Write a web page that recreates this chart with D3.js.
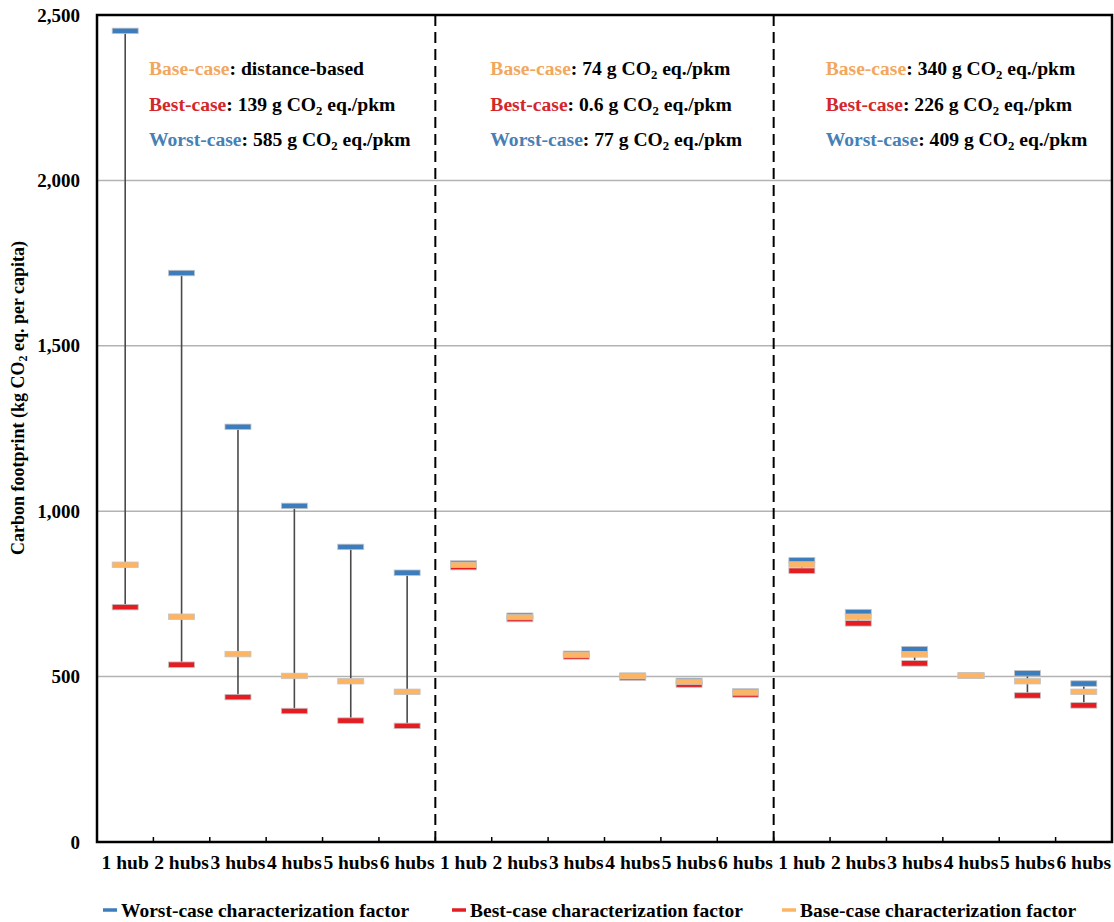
<!DOCTYPE html>
<html>
<head>
<meta charset="utf-8">
<script src="https://cdn.jsdelivr.net/npm/d3@7"></script>
<style>
  body { margin: 0; background: #fff; }
  text { font-family: "Liberation Serif", "Times New Roman", serif; font-weight: bold; }
</style>
</head>
<body>
<div id="chart"></div>
<script>
// categories and the three scenarios (one panel each)
const hubs = ['1 hub', '2 hubs', '3 hubs', '4 hubs', '5 hubs', '6 hubs']

// carbon footprint, kg CO2 eq. per capita
const worst1 = [2452, 1720, 1255, 1016, 892, 814]
const best1 = [710, 536, 438, 396, 367, 351]
const base1 = [838, 681, 568, 502, 486, 454]

const worst2 = [842, 684, 569, 503, 487, 455]
const best2 = [831, 674, 561, 497, 476, 446]
const base2 = [838, 680, 566, 501, 484, 452]

const worst3 = [852, 695, 583, 503, 510, 479]
const best3 = [820, 661, 540, 503, 443, 413]
const base3 = [839, 681, 567, 503, 486, 454]

const yTicks = [0, 500, 1000, 1500, 2000, 2500]

// annotation text per panel: [base, best, worst]
const notes = [
    ['distance-based', '139 g CO|2| eq./pkm', '585 g CO|2| eq./pkm'],
    ['74 g CO|2| eq./pkm', '0.6 g CO|2| eq./pkm', '77 g CO|2| eq./pkm'],
    ['340 g CO|2| eq./pkm', '226 g CO|2| eq./pkm', '409 g CO|2| eq./pkm']
]
const noteLabels = ['Base-case', 'Best-case', 'Worst-case']

const seriesNames = ['Worst-case characterization factor', 'Best-case characterization factor', 'Base-case characterization factor']

const col = {worst: '#3b7dbd', best: '#e31d22', base: '#fdb463'}
const textCol = {'Base-case': '#f2a75e', 'Best-case': '#d4262b', 'Worst-case': '#4680b5'}

const W = 1114, H = 922
const pl = 97, pr = 1112, pt = 15, pb = 842

const rows = []
const series = [[worst1, best1, base1], [worst2, best2, base2], [worst3, best3, base3]]
series.forEach((s, g) => {
    hubs.forEach((h, i) => {
        rows.push({key: g + '-' + i, hub: h, g: g, worst: s[0][i], best: s[1][i], base: s[2][i]})
    })
})

const svg = d3.select('#chart').append('svg').attr('width', W).attr('height', H)

const x = d3.scaleBand().domain(rows.map(d => d.key)).range([pl, pr])
const y = d3.scaleLinear().domain([0, 2500]).range([pb, pt])

// gridlines
svg.append('g').selectAll('line')
    .data(yTicks.filter(d => d > 0 && d < 2500))
    .enter().append('line')
    .attr('x1', pl).attr('x2', pr)
    .attr('y1', d => y(d)).attr('y2', d => y(d))
    .attr('stroke', '#b3b3b3').attr('stroke-width', 1.5)

// y tick labels
const yAxis = svg.append('g').attr('transform', 'translate(' + pl + ',0)')
    .call(d3.axisLeft(y).tickValues(yTicks).tickFormat(d3.format(',')).tickSize(0).tickPadding(17))
yAxis.select('.domain').remove()
yAxis.selectAll('text').attr('font-size', 19).attr('fill', '#000')
    .style('font-family', '"Liberation Serif", serif').style('font-weight', 'bold')

// group separators
svg.append('g').selectAll('line')
    .data([1, 2])
    .enter().append('line')
    .attr('x1', g => x(g + '-0')).attr('x2', g => x(g + '-0'))
    .attr('y1', pt).attr('y2', pb)
    .attr('stroke', '#000').attr('stroke-width', 2).attr('stroke-dasharray', '11,6')

// x ticks (inward) at band edges
svg.append('g').selectAll('line')
    .data(rows.slice(1))
    .enter().append('line')
    .attr('x1', d => x(d.key)).attr('x2', d => x(d.key))
    .attr('y1', pb).attr('y2', pb - 5)
    .attr('stroke', '#000').attr('stroke-width', 1.5)

// x labels
svg.append('g').selectAll('text')
    .data(rows)
    .enter().append('text')
    .attr('x', d => x(d.key) + x.bandwidth() / 2)
    .attr('y', 869)
    .attr('text-anchor', 'middle')
    .attr('font-size', 19.5)
    .text(d => d.hub)

// whiskers
svg.append('g').selectAll('line')
    .data(rows)
    .enter().append('line')
    .attr('x1', d => x(d.key) + x.bandwidth() / 2).attr('x2', d => x(d.key) + x.bandwidth() / 2)
    .attr('y1', d => y(d.worst)).attr('y2', d => y(d.best))
    .attr('stroke', '#4a4a4a').attr('stroke-width', 1.6)

// marks: worst, best, then base on top
const mw = 26, mh = 5.5
;['worst', 'best', 'base'].forEach(k => {
    svg.append('g').selectAll('rect')
        .data(rows)
        .enter().append('rect')
        .attr('x', d => x(d.key) + x.bandwidth() / 2 - mw / 2)
        .attr('y', d => y(d[k]) - mh / 2)
        .attr('width', mw).attr('height', mh)
        .attr('fill', col[k])
        .attr('stroke', '#c4c4c4').attr('stroke-width', 0.8)
})

// plot frame
svg.append('rect')
    .attr('x', pl).attr('y', pt)
    .attr('width', pr - pl).attr('height', pb - pt)
    .attr('fill', 'none').attr('stroke', '#000').attr('stroke-width', 2.5)

// annotations
const addRich = (sel, str, size) => {
    str.split('|').forEach((part, i) => {
        if (i % 2 == 1) {
            sel.append('tspan').attr('font-size', size * 0.65).attr('dy', 4).text(part)
        } else {
            sel.append('tspan').attr('dy', i > 0 ? -4 : 0).text(part)
        }
    })
}
const noteOff = [52, 55, 52]
notes.forEach((lines, g) => {
    const gx = (g == 0 ? pl : x(g + '-0')) + noteOff[g]
    lines.forEach((txt, r) => {
        const t = svg.append('text')
            .attr('x', gx).attr('y', 75 + r * 35.5)
            .attr('font-size', 19.6)
        t.append('tspan').attr('fill', textCol[noteLabels[r]]).text(noteLabels[r])
        t.append('tspan').attr('fill', '#000').text(': ')
        addRich(t, txt, 19.6)
    })
})

// y title
const yt = svg.append('text')
    .attr('transform', 'translate(24,' + 398 + ') rotate(-90)')
    .attr('text-anchor', 'middle')
    .attr('font-size', 18)
yt.append('tspan').text('Carbon footprint (kg CO')
yt.append('tspan').attr('font-size', 12).attr('dy', 3).text('2')
yt.append('tspan').attr('dy', -3).text(' eq. per capita)')

// legend
const legX = [103, 452, 782]
const legCols = [col.worst, col.best, col.base]
const leg = svg.append('g').selectAll('g')
    .data(seriesNames)
    .enter().append('g')
    .attr('transform', (d, i) => 'translate(' + legX[i] + ',910)')
leg.append('line')
    .attr('x1', 0).attr('x2', 14).attr('y1', 0).attr('y2', 0)
    .attr('stroke', (d, i) => legCols[i]).attr('stroke-width', 3.5)
leg.append('text')
    .attr('x', 18).attr('y', 7)
    .attr('font-size', 19.5)
    .text(d => d)
</script>
</body>
</html>
